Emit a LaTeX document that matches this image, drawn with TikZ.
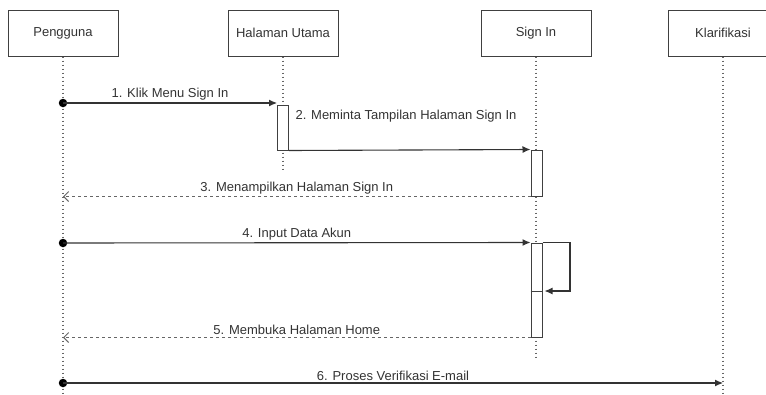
\documentclass[tikz,border=0pt]{standalone}
\usepackage{fontspec}
\setmainfont{Liberation Sans}
\usetikzlibrary{positioning, calc, arrows.meta}

\begin{document}
\begin{tikzpicture}[x=1pt, y=-1pt,
	every node/.style={font=\fontsize{13}{15}\selectfont, text=black!80},
	head/.style={draw=black!75, line width=1pt, minimum width=110pt, minimum height=46pt, inner sep=0pt},
	life/.style={draw=black!60, line width=1.2pt, dash pattern=on 1.5pt off 2.5pt},
	act/.style={draw=black!75, line width=1pt, fill=white, minimum width=11pt, inner sep=0pt},
	dot/.style={circle, fill=black, inner sep=0pt, minimum size=8.5pt},
	msg/.style={draw=black!80, line width=1.1pt, -{Latex[length=8pt,width=7pt]}},
	reply/.style={draw=black!60, line width=1pt, dash pattern=on 3pt off 3pt, -{Straight Barb[length=5pt,width=10pt,line width=1pt]}},
	lbl/.style={above, inner sep=2pt}]
	\useasboundingbox (0,0) rectangle (766,394);
	%% objek
	\node[head] (p) at (63,33) {Pengguna};
	\node[head] (hu) at (283,33) {Halaman Utama};
	\node[head] (si) at (536,33) {Sign In};
	\node[head] (kl) at (723,33) {Klarifikasi};
	
	%% lifeline
	\coordinate (pEnd) at (63,394);
	\coordinate (huEnd) at (283,172);
	\coordinate (siEnd) at (536,360);
	\coordinate (klEnd) at (723,394);
	\draw[life] (p) -- (pEnd);
	\draw[life] (hu) -- (huEnd);
	\draw[life] (si) -- (siEnd);
	\draw[life] (kl) -- (klEnd);
	
	%% aktivasi
	\node[act, minimum height=45pt] (a1) at (283,127.5) {};
	\node[act, minimum height=46pt] (a2) at (536.5,173) {};
	\node[act, minimum height=94pt] (a3) at (536.5,290) {};
	
	%% pesan
	\node[dot] (d1) at (63,103) {};
	\draw[msg] (d1.center) -- node[lbl] {1. Klik Menu Sign In} (a1.north west |- d1);
	\draw[msg] (a1.south east) -- (a2.north west);
	\node[anchor=west] (l2) at (292,116) {2. Meminta Tampilan Halaman Sign In};
	\draw[reply] (a2.south west) -- node[lbl] {3. Menampilkan Halaman Sign In} (p |- a2.south west);
	
	\node[dot] (d4) at (63,243) {};
	\draw[msg] (d4.center) -- node[lbl] {4. Input Data Akun} (a3.north west);
	\coordinate (selfR) at (570,291);
	\draw[black!75, line width=1pt] (a3.west |- selfR) -- (a3.east |- selfR);
	\draw[msg] (a3.north east) -| (selfR) -- ($(a3.east |- selfR)+(2,0)$);
	\draw[reply] (a3.south west) -- node[lbl] {5. Membuka Halaman Home} (p |- a3.south west);
	
	\node[dot] (d6) at (63,383) {};
	\draw[msg] (d6.center) -- node[lbl] {6. Proses Verifikasi E-mail} (kl |- d6);
\end{tikzpicture}
\end{document}
